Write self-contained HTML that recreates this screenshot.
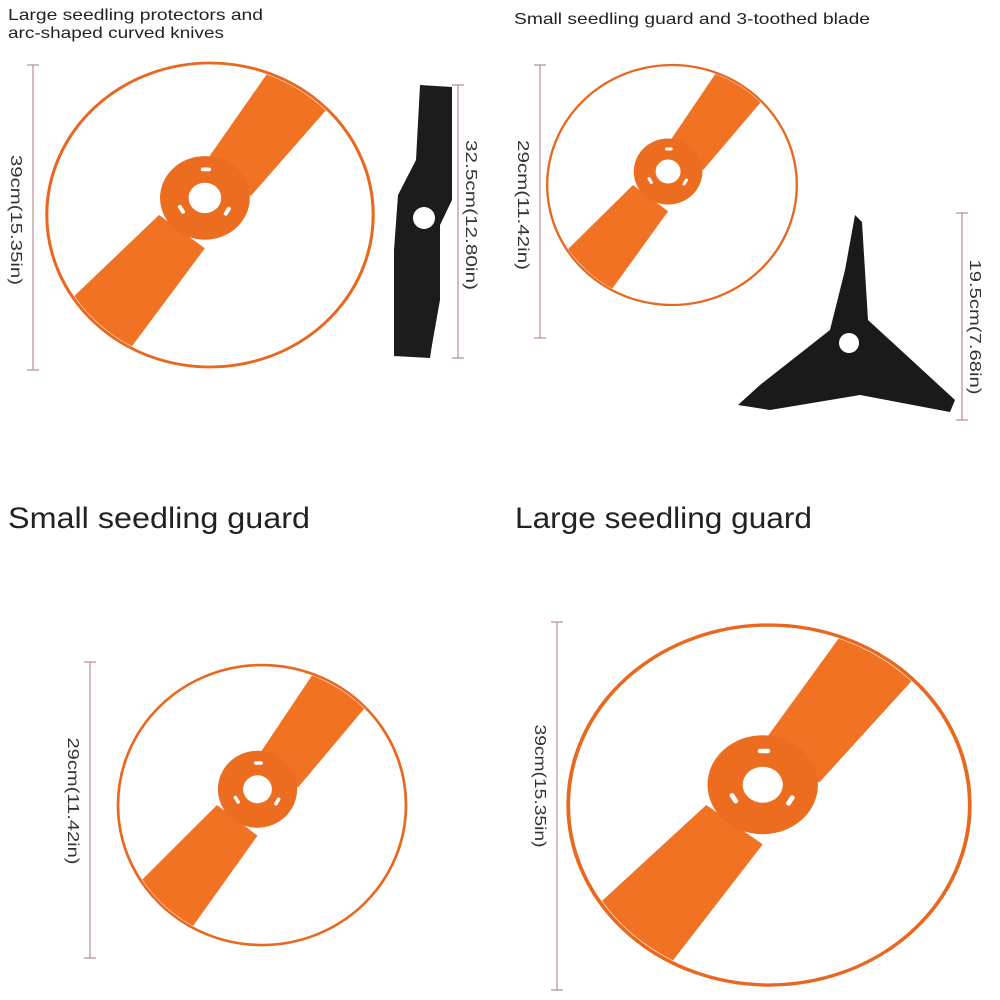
<!DOCTYPE html>
<html><head><style>
body{margin:0;background:#fff}
svg{display:block}
text{font-family:"Liberation Sans",sans-serif}
</style></head><body>
<svg width="1000" height="1000" viewBox="0 0 1000 1000" xmlns="http://www.w3.org/2000/svg">
<defs>
<clipPath id="rim"><circle cx="0" cy="0" r="158"/></clipPath>
<g id="guard">
  <g clip-path="url(#rim)">
  <polygon points="-5,-55 75,-178 138,-140 40,-20" fill="#f07222"/>
  <polygon points="-50,0 -165,118 -100,172 -5,35" fill="#f07222"/>
  </g>
  <ellipse cx="0" cy="0" rx="160" ry="160" fill="none" stroke="#e8681f" stroke-width="3"/>
  <circle cx="-5" cy="-18" r="44" fill="#ec6c20"/>
  <circle cx="-5" cy="-18" r="16" fill="#fff"/>
  <rect x="-9" y="-50" width="10" height="4" rx="2" fill="#fff"/>
  <rect x="-33" y="-8" width="10" height="4" rx="2" fill="#fff" transform="rotate(60 -28 -6)"/>
  <rect x="12" y="-6" width="10" height="4" rx="2" fill="#fff" transform="rotate(-60 17 -4)"/>
</g>
</defs>

<text x="8" y="20" font-size="16" fill="#222" textLength="255" lengthAdjust="spacingAndGlyphs">Large seedling protectors and</text>
<text x="8" y="38" font-size="16" fill="#222" textLength="216" lengthAdjust="spacingAndGlyphs">arc-shaped curved knives</text>
<text x="514" y="24" font-size="16" fill="#222" textLength="356" lengthAdjust="spacingAndGlyphs">Small seedling guard and 3-toothed blade</text>

<g transform="translate(210,215) scale(1.02,0.95)"><use href="#guard"/></g>
<g transform="translate(672,185) scale(0.78,0.75)"><use href="#guard"/></g>
<g transform="translate(262,805) scale(0.9,0.875)"><use href="#guard"/></g>
<g transform="translate(769,805) scale(1.255,1.125)"><use href="#guard"/></g>

<!-- long blade -->
<path d="M420,85 L452,87 L452,200 L440,225 L440,300 L432,345 L430,358 L394,356 L394,250 L398,195 L416,160 Z" fill="#1c1c1c"/>
<circle cx="424" cy="218" r="11" fill="#fff"/>

<!-- 3 tooth blade -->
<path d="M855,215 L862,222 L868,320 L955,400 L950,412 L860,395 L770,410 L738,405 L760,385 L830,330 L845,270 Z" fill="#1a1a1a"/>
<circle cx="849" cy="343" r="10" fill="#fff"/>

<!-- dimension lines -->
<g stroke="#b89090" stroke-width="1.2">
<line x1="33" y1="65" x2="33" y2="370"/><line x1="27" y1="65" x2="39" y2="65"/><line x1="27" y1="370" x2="39" y2="370"/>
<line x1="458" y1="85" x2="458" y2="358"/><line x1="452" y1="85" x2="464" y2="85"/><line x1="452" y1="358" x2="464" y2="358"/>
<line x1="540" y1="65" x2="540" y2="338"/><line x1="534" y1="65" x2="546" y2="65"/><line x1="534" y1="338" x2="546" y2="338"/>
<line x1="962" y1="213" x2="962" y2="420"/><line x1="956" y1="213" x2="968" y2="213"/><line x1="956" y1="420" x2="968" y2="420"/>
<line x1="90" y1="662" x2="90" y2="958"/><line x1="84" y1="662" x2="96" y2="662"/><line x1="84" y1="958" x2="96" y2="958"/>
<line x1="557" y1="622" x2="557" y2="990"/><line x1="551" y1="622" x2="563" y2="622"/><line x1="551" y1="990" x2="563" y2="990"/>
</g>
<g font-size="16" fill="#333" text-anchor="middle">
<text transform="translate(11,220) rotate(90)" textLength="130" lengthAdjust="spacingAndGlyphs">39cm(15.35in)</text>
<text transform="translate(466,215) rotate(90)" textLength="150" lengthAdjust="spacingAndGlyphs">32.5cm(12.80in)</text>
<text transform="translate(518,205) rotate(90)" textLength="130" lengthAdjust="spacingAndGlyphs">29cm(11.42in)</text>
<text transform="translate(970,327) rotate(90)" textLength="135" lengthAdjust="spacingAndGlyphs">19.5cm(7.68in)</text>
<text transform="translate(68,801) rotate(90)" textLength="127" lengthAdjust="spacingAndGlyphs">29cm(11.42in)</text>
<text transform="translate(535,786) rotate(90)" textLength="123" lengthAdjust="spacingAndGlyphs">39cm(15.35in)</text>
</g>

<text x="8" y="528" font-size="30" fill="#222" textLength="302" lengthAdjust="spacingAndGlyphs">Small seedling guard</text>
<text x="515" y="528" font-size="30" fill="#222" textLength="297" lengthAdjust="spacingAndGlyphs">Large seedling guard</text>
</svg>
</body></html>
